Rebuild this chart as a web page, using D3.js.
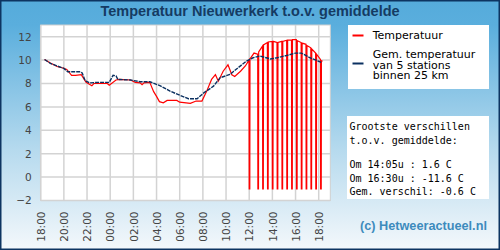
<!DOCTYPE html>
<html>
<head>
<meta charset="utf-8">
<script src="https://cdn.jsdelivr.net/npm/d3@7"></script>
<style>
  body { margin: 0; padding: 0; background: #fff; }
  svg { display: block; }
</style>
</head>
<body>
<svg id="chart" width="500" height="250"></svg>
<script>
// temperature Nieuwerkerk (red), with the drop-outs to -1
var redPoints = [
  ["18:20",10.05],["18:50",9.75],["19:25",9.45],["20:00",9.3],["20:15",9.2],["20:40",8.7],
  ["21:00",8.7],["21:30",8.75],["21:55",8.1],["22:25",7.8],["22:35",8.0],["23:15",8.0],
  ["23:45",8.0],["23:55",7.85],["00:30",8.3],["00:50",8.35],["01:45",8.3],["02:10",8.1],
  ["02:35",8.05],["02:45",7.9],["02:55",8.05],["03:25",8.1],["03:45",7.3],["04:00",6.9],
  ["04:15",6.45],["04:35",6.35],["04:55",6.55],["05:45",6.55],["06:00",6.4],["06:55",6.3],
  ["07:25",6.5],["07:55",6.5],["08:20",7.35],["08:45",8.35],["09:05",8.75],["09:20",8.2],
  ["09:45",9.05],["10:10",9.6],["10:30",8.75],["10:45",8.6],["11:15",9.05],["11:40",9.5],
  ["11:59",10.0],["12:00",-1],["12:03",-1],["12:04",10.1],["12:25",10.6],["12:44",10.5],
  ["12:45",-1],["12:48",-1],["12:49",10.7],["13:09",11.2],["13:10",-1],["13:13",-1],
  ["13:14",11.3],["13:34",11.5],["13:35",-1],["13:38",-1],["13:39",11.55],["13:59",11.6],
  ["14:00",-1],["14:03",-1],["14:04",11.6],["14:24",11.5],["14:25",-1],["14:28",-1],
  ["14:29",11.5],["14:49",11.6],["14:50",-1],["14:53",-1],["14:54",11.6],["15:14",11.7],
  ["15:15",-1],["15:18",-1],["15:19",11.7],["15:39",11.7],["15:40",-1],["15:43",-1],
  ["15:44",11.75],["16:04",11.75],["16:05",-1],["16:08",-1],["16:09",11.65],["16:29",11.5],
  ["16:30",-1],["16:33",-1],["16:34",11.45],["16:54",11.35],["16:55",-1],["16:58",-1],
  ["16:59",11.25],["17:19",11.05],["17:20",-1],["17:23",-1],["17:24",10.95],["17:44",10.6],
  ["17:45",-1],["17:48",-1],["17:49",10.5],["18:09",10.06],["18:10",-1],["18:13",-1],
  ["18:14",9.95],["18:20",9.9]
];

// average of 5 stations within 25 km (navy)
var avgPoints = [
  ["18:20",10.05],["18:50",9.72],["19:25",9.5],["20:00",9.29],["20:20",9.0],["21:25",9.0],
  ["21:35",8.9],["21:50",8.25],["22:15",8.05],["23:00",8.1],["23:55",8.1],["00:15",8.7],
  ["00:30",8.65],["00:40",8.35],["01:45",8.3],["02:35",8.15],["03:25",8.15],["04:20",7.8],
  ["05:10",7.35],["06:00",7.0],["06:45",6.7],["07:30",6.7],["08:05",7.2],["08:55",7.77],
  ["09:30",8.5],["10:20",8.77],["10:40",9.05],["11:45",9.9],["12:20",10.2],["12:55",10.35],
  ["13:50",10.1],["14:25",10.2],["15:15",10.4],["16:00",10.6],["16:30",10.6],["17:15",10.2],
  ["18:00",9.9],["18:15",9.8]
];

var yTicks = [-2, 0, 2, 4, 6, 8, 10, 12];
var legendLabels = ["Temperatuur", ["Gem. temperatuur", "van 5 stations", "binnen 25 km"]];
var infoLines = ["Grootste verschillen", "t.o.v. gemiddelde:", "", "Om 14:05u : 1.6 C", "Om 16:30u : -11.6 C", "Gem. verschil: -0.6 C"];

// "HH:MM" strings run past midnight, so bump the day when the clock goes back
function toDates(points) {
    var day = 0, prev = -1;
    return points.map(function(p) {
        var hm = p[0].split(":");
        var mins = +hm[0] * 60 + +hm[1];
        if (mins < prev) day++;
        prev = mins;
        return { t: new Date(2020, 0, 1 + day, +hm[0], +hm[1]), v: p[1] };
    });
}

var red = toDates(redPoints);
var avg = toDates(avgPoints);

var svg = d3.select("#chart");
var W = 500, H = 250;
var plotL = 40.7, plotR = 330.3, plotT = 25, plotB = 200.5;

var defs = svg.append("defs");
var grad = defs.append("linearGradient").attr("id", "bg").attr("x1", 0).attr("y1", 0).attr("x2", 0).attr("y2", 1);
grad.append("stop").attr("offset", "0%").attr("stop-color", "#55abdb");
grad.append("stop").attr("offset", "10%").attr("stop-color", "#5aaedd");
grad.append("stop").attr("offset", "60%").attr("stop-color", "#b6daee");
grad.append("stop").attr("offset", "100%").attr("stop-color", "#f4f8fb");

svg.append("rect").attr("width", W).attr("height", H).attr("fill", "url(#bg)");
svg.append("rect").attr("x", 0.75).attr("y", 0.75).attr("width", W - 1.5).attr("height", H - 1.5)
    .attr("fill", "none").attr("stroke", "#0d3461").attr("stroke-width", 1.5);

svg.append("text").attr("x", 250).attr("y", 16).attr("text-anchor", "middle")
    .attr("font-family", "Liberation Sans, Arial, sans-serif").attr("font-weight", "bold")
    .attr("font-size", "14.5px").attr("fill", "#153b63")
    .text("Temperatuur Nieuwerkerk t.o.v. gemiddelde");

var x = d3.scaleTime()
    .domain([new Date(2020, 0, 1, 18, 0), new Date(2020, 0, 2, 19, 0)])
    .range([plotL, plotR]);
var y = d3.scaleLinear().domain([-2, 13]).range([plotB, plotT]);

svg.append("rect").attr("x", plotL).attr("y", plotT).attr("width", plotR - plotL).attr("height", plotB - plotT)
    .attr("fill", "#fff").attr("stroke", "#cfcfcf").attr("stroke-width", 1);

var xTicks = x.ticks(d3.timeHour.every(2));

var grid = svg.append("g").attr("stroke", "#d3d3d3").attr("stroke-width", 1.5);
grid.selectAll("line.h").data(yTicks).enter().append("line")
    .attr("x1", plotL).attr("x2", plotR).attr("y1", function(d) { return y(d); }).attr("y2", function(d) { return y(d); });
grid.selectAll("line.v").data(xTicks).enter().append("line")
    .attr("y1", plotT).attr("y2", plotB).attr("x1", function(d) { return x(d); }).attr("x2", function(d) { return x(d); });

// y axis labels
var yAxis = svg.append("g").attr("transform", "translate(" + (plotL - 9) + ",0)")
    .call(d3.axisLeft(y).tickValues(yTicks).tickSize(0).tickPadding(0));
yAxis.select(".domain").remove();
yAxis.selectAll("text").attr("font-family", "DejaVu Sans, sans-serif").attr("font-size", "10.5px").attr("fill", "#444");

// x axis labels, vertical
var xAxis = svg.append("g").attr("transform", "translate(0," + (plotB + 11) + ")")
    .call(d3.axisBottom(x).tickValues(xTicks).tickFormat(d3.timeFormat("%H:%M")).tickSize(0).tickPadding(0));
xAxis.select(".domain").remove();
xAxis.selectAll("text")
    .attr("font-family", "DejaVu Sans, sans-serif").attr("font-size", "10.5px").attr("fill", "#444")
    .attr("transform", "rotate(-90)").attr("text-anchor", "end").attr("dy", "0.35em").attr("x", 0).attr("y", 0);

var line = d3.line().x(function(d) { return x(d.t); }).y(function(d) { return y(d.v); });

svg.append("path").datum(red).attr("d", line).attr("fill", "none")
    .attr("stroke", "#ff0000").attr("stroke-width", 1.2).attr("stroke-linejoin", "miter");
svg.append("path").datum(avg).attr("d", line).attr("fill", "none")
    .attr("stroke", "#0b3060").attr("stroke-width", 1.4).attr("stroke-dasharray", "4 1");

// legend
var lg = svg.append("g");
lg.append("rect").attr("x", 348).attr("y", 25).attr("width", 141).attr("height", 64).attr("fill", "#fff");
lg.append("line").attr("x1", 352.5).attr("x2", 363.5).attr("y1", 35.5).attr("y2", 35.5).attr("stroke", "#ff0000").attr("stroke-width", 2);
lg.append("line").attr("x1", 352.5).attr("x2", 363.5).attr("y1", 63.5).attr("y2", 63.5).attr("stroke", "#0b3060").attr("stroke-width", 2);
lg.append("text").attr("x", 372.7).attr("y", 38.5).attr("font-family", "DejaVu Sans, sans-serif")
    .attr("font-size", "11px").attr("fill", "#000").text(legendLabels[0]);
lg.selectAll("text.l2").data(legendLabels[1]).enter().append("text")
    .attr("x", 372.7).attr("y", function(d, i) { return 58.3 + i * 10.3; })
    .attr("font-family", "DejaVu Sans, sans-serif").attr("font-size", "11px").attr("fill", "#000")
    .text(function(d) { return d; });

// info box
var info = svg.append("g");
info.append("rect").attr("x", 347).attr("y", 116).attr("width", 142).attr("height", 83).attr("fill", "#fff");
var infoY = [130, 143.5, 157, 168, 181.5, 195];
info.selectAll("text").data(infoLines).enter().append("text")
    .attr("x", 349.5).attr("y", function(d, i) { return infoY[i]; })
    .attr("font-family", "DejaVu Sans Mono, monospace").attr("font-size", "10px").attr("fill", "#000")
    .attr("xml:space", "preserve").text(function(d) { return d; });

svg.append("text").attr("x", 360).attr("y", 230)
    .attr("font-family", "Liberation Sans, Arial, sans-serif").attr("font-weight", "bold")
    .attr("font-size", "12.7px").attr("fill", "#3d8bbd")
    .text("(c) Hetweeractueel.nl");
</script>
</body>
</html>
